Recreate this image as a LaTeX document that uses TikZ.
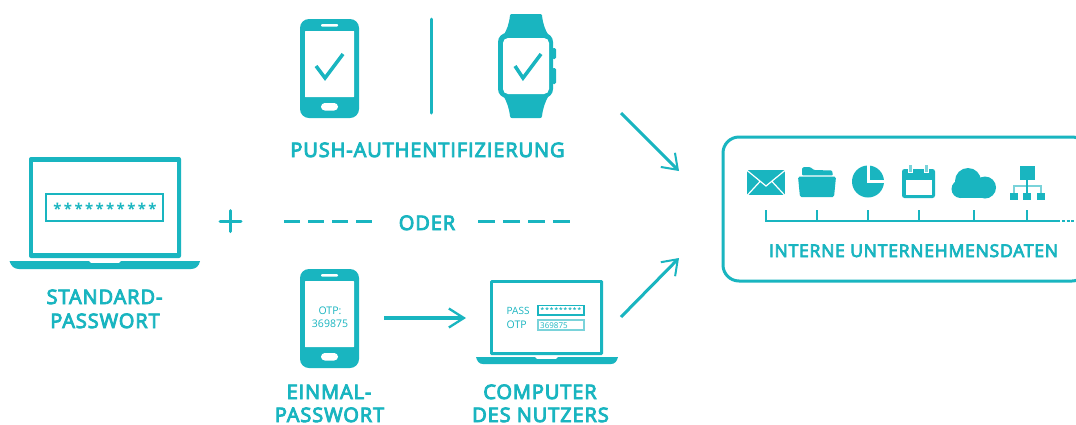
\documentclass[tikz,border=0pt]{standalone}
\usepackage{fontspec}
\setmainfont{Open Sans}
\newfontfamily\medfont{Open Sans}[FakeBold=4.5,LetterSpace=4.5]
\usetikzlibrary{arrows.meta}
\definecolor{tl}{HTML}{19B5C0}
\definecolor{tll}{HTML}{7AD3DA}
\tikzset{
  lab/.style={anchor=base,inner sep=0pt,text=tl,font=\medfont\fontsize{20}{20}\selectfont},
  small/.style={anchor=base,inner sep=0pt,text=tl},
  star/.style={anchor=center,inner sep=0pt,text=tl,font=\fontsize{15}{15}\selectfont\bfseries},
  flow/.style={draw=tl,line width=3pt,-{Straight Barb[length=14pt,width=20pt,line width=2pt]}},
  tick/.style={draw=tl,line width=2pt},
  hollow/.style={draw=tl,line width=2pt,fill=white},
  check/.style={draw=tl,line width=3.5pt},
  phonebody/.pic={
    \fill[tl,rounded corners=9pt] (300,19) rectangle (359,118);
    \fill[white,rounded corners=.5pt] (305,31) rectangle (354,97);
    \fill[white,rounded corners=1pt] (321,24) rectangle (338,26.5);
    \fill[white,rounded corners=3.8pt] (321,103) rectangle (338,110.5);
  }
}
\begin{document}
\begin{tikzpicture}[x=1pt,y=-1pt]
\useasboundingbox (0,0) rectangle (1076,424);
\fill[white] (0,0) rectangle (1076,424);
% top phone
\pic at (0,0) {phonebody};
\draw[check] (316,66) -- (325,78) -- (343,54);
% divider
\draw[draw=tl,line width=3pt,line cap=round] (431.7,19) coordinate (divtop) -- (431.7,113) coordinate (divbot);
% watch
\fill[tl] (510,15.5) .. controls (510,14.5) and (511,14) .. (512,14) -- (540,14) .. controls (541,14) and (542,14.5) .. (542,15.5) .. controls (543,24) and (545,30) .. (549,36) -- (549,95) .. controls (545,102) and (543,108) .. (542,116) .. controls (542,117.5) and (541,118) .. (540,118) -- (512,118) .. controls (511,118) and (510,117.5) .. (510,116) .. controls (509,108) and (507,102) .. (503,95) -- (503,36) .. controls (507,30) and (509,24) .. (510,15.5) -- cycle;
\fill[tl,rounded corners=1.5pt] (552,48) rectangle (556,59);
\fill[tl,rounded corners=1.5pt] (552,68) rectangle (556,84);
\fill[tl,rounded corners=9pt] (498,33) rectangle (553,98);
\fill[white,rounded corners=5pt] (503,38) rectangle (549,94);
\draw[check] (515,66) -- (523,78) -- (541,54);
\node[lab] (push) at (427.5,157) {PUSH-AUTHENTIFIZIERUNG};
% big laptop
\fill[tl,rounded corners=2pt] (29,157) -- (181,157) -- (181,258) -- (29,258) -- cycle;
\fill[white] (33,162) rectangle (177,253);
\draw[hollow] (46,194) rectangle (163,221);
\foreach \i in {0,...,9}{\node[star] at (57.5+10.55*\i,208.5) {*};}
\fill[tl] (9.5,261) -- (89,261) -- (91,263) -- (119,263) -- (121,261) -- (200,261) .. controls (199,266) and (196,269) .. (191,269) -- (19,269) .. controls (14,269) and (11,266) .. (9.5,261) -- cycle;
\node[lab] (std1) at (104.5,304) {STANDARD-};
\node[lab] (std2) at (105,328) {PASSWORT};
% plus
\draw[draw=tl,line width=3pt,line cap=round] (220,221) -- (241,221) (230.5,210.5) -- (230.5,231.5);
% oder row
\coordinate (d1a) at (284,221); \coordinate (d1b) at (372,221);
\coordinate (d2a) at (478,221); \coordinate (d2b) at (572,221);
\draw[draw=tl,line width=3pt,dash pattern=on 16pt off 8pt] (d1a) -- (d1b);
\draw[draw=tl,line width=3pt,dash pattern=on 17pt off 8pt] (d2a) -- (d2b);
\node[lab] (oder) at (427,230) {ODER};
% lower phone
\pic at (0,250) {phonebody};
\node[small,font=\fontsize{10.5}{10.5}\selectfont] (otp1) at (330,314) {OTP:};
\node[small,font=\fontsize{10.5}{10.5}\selectfont] (otp2) at (330,327) {369875};
\node[lab] (ein1) at (329,399) {EINMAL-};
\node[lab] (ein2) at (329.5,422) {PASSWORT};
% small laptop
\fill[tl,rounded corners=1.5pt] (490,280) rectangle (603,355);
\fill[white] (493,283) rectangle (600,352);
\node[small,anchor=base west,font=\fontsize{10}{10}\selectfont] (pass) at (506.5,314) {PASS};
\node[small,anchor=base west,font=\fontsize{10.5}{10.5}\selectfont] (otp) at (506.5,328) {OTP};
\draw[draw=tl,line width=1.3pt] (538,305.5) rectangle (584,315);
\foreach \i in {0,...,8}{\node[star,font=\fontsize{6.5}{6.5}\selectfont\bfseries] at (542.5+4.6*\i,310.5) {*};}
\draw[draw=tll,line width=1.3pt] (538,320) rectangle (584,330);
\node[small,anchor=base west,font=\fontsize{8}{8}\selectfont] (code) at (540,328) {369875};
\fill[tl] (476,357) -- (535,357) -- (537,359) -- (556,359) -- (558,357) -- (618,357) .. controls (617,361) and (615,364) .. (611,364) -- (483,364) .. controls (479,364) and (477,361) .. (476,357) -- cycle;
\node[lab] (comp1) at (540,399) {COMPUTER};
\node[lab] (comp2) at (540.5,422) {DES NUTZERS};
% arrows
\coordinate (a1s) at (384,318); \coordinate (a1e) at (466,318);
\draw[draw=tl,line width=4pt,-{Straight Barb[length=15pt,width=19pt,line width=2.3pt]}] (a1s) -- (a1e);
\coordinate (a2s) at (621,113); \coordinate (a2e) at (679,171);
\coordinate (a3s) at (621,317); \coordinate (a3e) at (679,258);
\draw[flow] (a2s) -- (a2e);
\draw[flow] (a3s) -- (a3e);
% data box
\draw[draw=tl,line width=3pt,rounded corners=16pt] (723,137) rectangle (1088,281);
% envelope
\fill[tl] (747,170) rectangle (785,195);
\draw[white,line width=1.2pt] (746.5,170) -- (766,186) -- (785.5,170) (747.5,195) -- (760,181.5) (784.5,195) -- (772,181.5);
% folder
\fill[tl,rounded corners=1pt] (802,175.3) -- (802,168) -- (804,167) -- (810,167) -- (814,170) -- (832,170.5) -- (833,175.3) -- cycle;
\fill[tl,rounded corners=1.5pt] (798,176.7) -- (836,176.7) -- (834,197) -- (800,197) -- cycle;
% pie
\fill[tl] (868,181.5) circle (16);
\fill[white] (866.8,165) rectangle (870,183);
\fill[white] (866.8,180) rectangle (885,183);
% calendar
\fill[tl,rounded corners=2.5pt] (902,169) rectangle (935,198);
\fill[white] (906,180) rectangle (932,195);
\fill[white] (908,169) rectangle (913,172.5);
\fill[white] (924,169) rectangle (929,172.5);
\fill[tll] (909,165) rectangle (912,172);
\fill[tll] (925,165) rectangle (928,172);
% cloud
\fill[tl] (968,181) circle (13);
\fill[tl] (985,187.5) circle (11);
\fill[tl] (960.5,189) circle (9);
\fill[tl] (960,180) rectangle (986,198);
% org chart
\fill[tl] (1020,166) rectangle (1035,180);
\fill[tl] (1010,193) rectangle (1018,200);
\fill[tl] (1023,193) rectangle (1031,200);
\fill[tl] (1037,193) rectangle (1045,200);
\draw[draw=tll,line width=1.3pt] (1014,193) -- (1014,186) -- (1041,186) -- (1041,193);
\draw[draw=tl,line width=1.6pt] (1027,180) -- (1027,193);
% timeline
\coordinate (tl0) at (765,220.7); \coordinate (tl1) at (1060,220.7);
\coordinate (tl2) at (1062,220.7); \coordinate (tl3) at (1075,220.7);
\draw[tick] (tl0) -- (tl1);
\draw[tick,dash pattern=on 3pt off 1.5pt] (tl2) -- (tl3);
\foreach \x in {766,817,868,919,974,1027}{\draw[tick] (\x,210) -- (\x,221);}
\node[small,font=\medfont\fontsize{17.5}{17.5}\selectfont] (intern) at (913.5,257) {INTERNE UNTERNEHMENSDATEN};
\end{tikzpicture}
\end{document}
